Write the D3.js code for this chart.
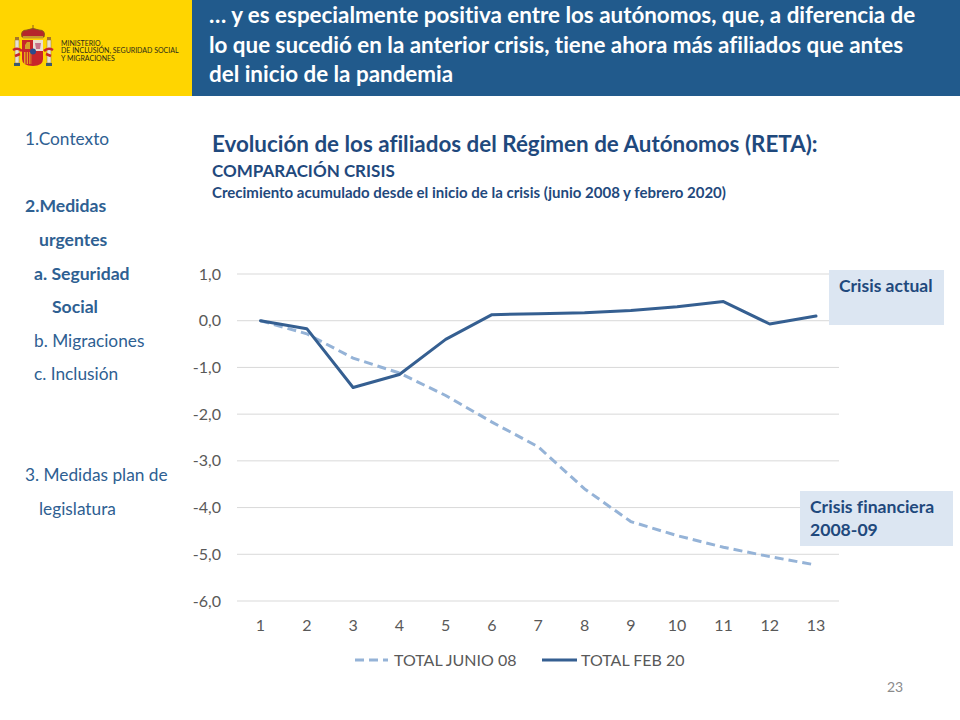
<!DOCTYPE html>
<html><head><meta charset="utf-8">
<script src="https://cdn.jsdelivr.net/npm/d3@7/dist/d3.min.js"></script>
<style>html,body{margin:0;padding:0;background:#fff}svg{display:block}text{font-family:Lato,"Open Sans",sans-serif;font-variant-ligatures:none}</style>
</head><body><svg id="c" width="960" height="720"></svg>
<script>
const periods=[1,2,3,4,5,6,7,8,9,10,11,12,13];
const totalJunio08=[0,-0.28,-0.8,-1.12,-1.6,-2.17,-2.7,-3.6,-4.3,-4.6,-4.85,-5.05,-5.23];
const totalFeb20=[0,-0.17,-1.43,-1.15,-0.4,0.13,0.15,0.17,0.22,0.30,0.41,-0.07,0.1];
const yTicks=[1,0,-1,-2,-3,-4,-5,-6];
const headerLines=["… y es especialmente positiva entre los autónomos, que, a diferencia de","lo que sucedió en la anterior crisis, tiene ahora más afiliados que antes","del inicio de la pandemia"];
const ministryLines=["MINISTERIO","DE INCLUSIÓN, SEGURIDAD SOCIAL","Y MIGRACIONES"];
const navItems=[
 ["1.Contexto",25,145,400],["2.Medidas",25,212,700],["urgentes",39,246,700],["a. Seguridad",34,280,700],["Social",52,313,700],
 ["b. Migraciones",34,347,400],["c.  Inclusión",34,380,400],["3. Medidas plan de",25,481,400],["legislatura",39,515,400]];

const svg=d3.select("#c");
const navy="#1f497d", blue="#215a8c";
svg.append("rect").attr("width",192).attr("height",96).attr("fill","#ffd500");
svg.append("rect").attr("x",192).attr("width",768).attr("height",96).attr("fill",blue);
svg.selectAll(".hl").data(headerLines).join("text").attr("x",209).attr("y",(d,i)=>23+i*29.5)
 .attr("fill","#fff").attr("font-size",22.4).attr("font-weight",700).text(d=>d);

// crest
const crest=svg.append("g");
crest.append("path").attr("d","M33 25 L33 29 M22 37 Q20 30 27 30 Q33 27 39 30 Q46 30 44 37 Z").attr("fill","#b5262b").attr("stroke","#8a5a1c").attr("stroke-width",1);
crest.append("rect").attr("x",23).attr("y",36).attr("width",20).attr("height",2.5).attr("fill","#c79a2e");
crest.append("path").attr("d","M22 40 H43 V59 Q43 66 33 66 Q22 66 22 59 Z").attr("fill","#c8262b");
crest.append("rect").attr("x",33).attr("y",40).attr("width",10).attr("height",11).attr("fill","#e9dfd3");
crest.append("path").attr("d","M35 43 L41 43 L40 49 L36 49 Z").attr("fill","#c7738a");
crest.append("rect").attr("x",24).attr("y",52).attr("width",8).attr("height",12).attr("fill","#e5a41f");
crest.selectAll(".stripe").data([25.5,28,30.5]).join("rect").attr("x",d=>d).attr("y",52).attr("width",1.2).attr("height",12).attr("fill","#c8262b");
crest.append("path").attr("d","M27 42 L30 42 L30 49 L25 49 L25 45 Z").attr("fill","#d4a12a");
crest.append("circle").attr("cx",33).attr("cy",51.5).attr("r",3).attr("fill","#2c4a8c");
[15,47].forEach(x=>{
 crest.append("rect").attr("x",x).attr("y",40).attr("width",4).attr("height",23).attr("fill","#e6e0d2").attr("stroke","#a07c2a").attr("stroke-width",.5);
 crest.append("rect").attr("x",x-1).attr("y",63).attr("width",6).attr("height",3).attr("fill","#3d5b6e");
 crest.append("rect").attr("x",x).attr("y",37).attr("width",4).attr("height",3).attr("fill","#a5762a");
});
crest.append("path").attr("d","M13 50 Q18 47 22 51 M44 51 Q48 47 53 50 M15 56 L20 54 M46 54 L51 56").attr("stroke","#c8262b").attr("stroke-width",2.5).attr("fill","none");
svg.selectAll(".ml").data(ministryLines).join("text").attr("x",61).attr("y",(d,i)=>45.5+i*7.6)
 .attr("fill","#2b2b1a").attr("font-size",7).text(d=>d);

// nav
svg.selectAll(".nav").data(navItems).join("text").attr("x",d=>d[1]).attr("y",d=>d[2])
 .attr("fill","#2e6092").attr("font-size",d=>d[3]===700?17.6:17.3).attr("font-weight",d=>d[3]).text(d=>d[0]);

// titles
svg.append("text").attr("x",212).attr("y",152).attr("fill",navy).attr("font-size",22.4).attr("font-weight",700).text("Evolución de los afiliados del Régimen de Autónomos (RETA):");
svg.append("text").attr("x",212).attr("y",177).attr("fill",navy).attr("font-size",17).attr("font-weight",700).text("COMPARACIÓN CRISIS");
svg.append("text").attr("x",212).attr("y",198).attr("fill",navy).attr("font-size",15).attr("font-weight",700).text("Crecimiento acumulado desde el inicio de la crisis (junio 2008 y febrero 2020)");

// chart
const x=d3.scalePoint().domain(periods).range([260.5,816]);
const y=d3.scaleLinear().domain([-6,1]).range([601,274]);
const gridG=svg.append("g");
gridG.selectAll("line").data(yTicks).join("line").attr("x1",237).attr("x2",839)
 .attr("y1",d=>y(d)).attr("y2",d=>y(d)).attr("stroke","#d9d9d9").attr("stroke-width",1);
const fmt=d=>d3.format(".1f")(d).replace(".",",").replace("−","-");
svg.selectAll(".yt").data(yTicks).join("text").attr("x",221).attr("y",d=>y(d)+5.5).attr("text-anchor","end")
 .attr("fill","#595959").attr("font-size",16).text(fmt);
svg.selectAll(".xt").data(periods).join("text").attr("x",d=>x(d)).attr("y",631).attr("text-anchor","middle")
 .attr("fill","#595959").attr("font-size",16).text(d=>d);

const line=d3.line().x((d,i)=>x(periods[i])).y(d=>y(d));
svg.append("path").attr("d",line(totalJunio08)).attr("fill","none").attr("stroke","#95b3d7").attr("stroke-width",3).attr("stroke-dasharray","9 5");
svg.append("path").attr("d",line(totalFeb20)).attr("fill","none").attr("stroke","#355f91").attr("stroke-width",3).attr("stroke-linecap","round").attr("stroke-linejoin","round");

// legend
svg.append("line").attr("x1",355).attr("x2",388).attr("y1",660).attr("y2",660).attr("stroke","#95b3d7").attr("stroke-width",3).attr("stroke-dasharray","9 5");
svg.append("text").attr("x",394).attr("y",665.5).attr("fill","#595959").attr("font-size",16).text("TOTAL JUNIO 08");
svg.append("line").attr("x1",542).attr("x2",577).attr("y1",660).attr("y2",660).attr("stroke","#355f91").attr("stroke-width",3);
svg.append("text").attr("x",581).attr("y",665.5).attr("fill","#595959").attr("font-size",16).text("TOTAL FEB 20");

// callouts
svg.append("rect").attr("x",829).attr("y",270).attr("width",115).attr("height",55).attr("fill","#dce6f2");
svg.append("text").attr("x",839).attr("y",292).attr("fill",navy).attr("font-size",17.5).attr("font-weight",700).text("Crisis actual");
svg.append("rect").attr("x",800).attr("y",491).attr("width",153).attr("height",55).attr("fill","#dce6f2");
svg.append("text").attr("x",810).attr("y",513).attr("fill",navy).attr("font-size",17.6).attr("font-weight",700).text("Crisis financiera");
svg.append("text").attr("x",810).attr("y",536).attr("fill",navy).attr("font-size",17.6).attr("font-weight",700).text("2008-09");

svg.append("text").attr("x",887).attr("y",692).attr("fill","#8b8b8b").attr("font-size",14).text("23");
</script></body></html>
